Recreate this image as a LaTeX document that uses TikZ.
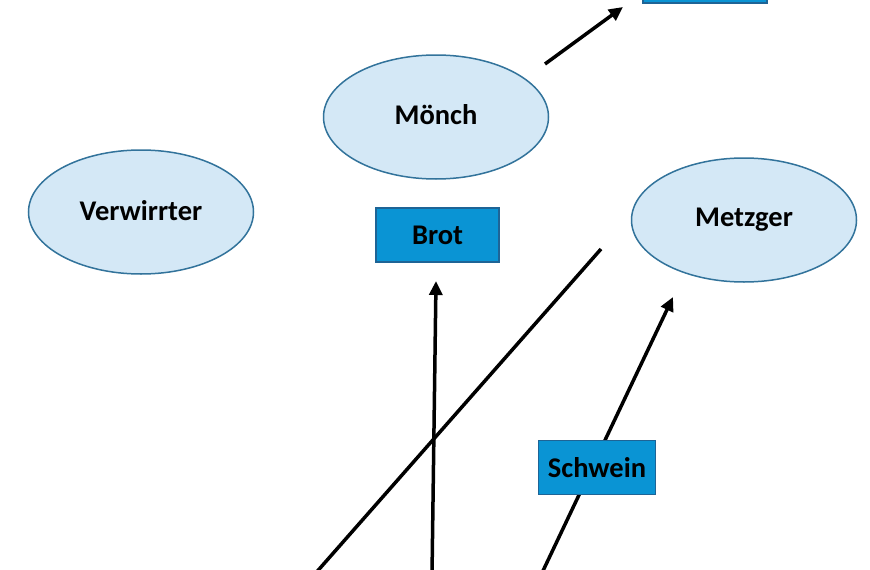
\documentclass[tikz,border=0pt]{standalone}
\usepackage{fontspec}
\setmainfont{Carlito}
\usetikzlibrary{shapes.geometric,arrows.meta}
\definecolor{boxfill}{RGB}{10,148,212}
\definecolor{boxline}{RGB}{30,100,150}
\definecolor{ellfill}{RGB}{212,232,246}
\definecolor{ellline}{RGB}{50,115,155}
\tikzset{
  person/.style={ellipse,draw=ellline,fill=ellfill,line width=1.5pt,minimum width=225pt,minimum height=124pt,inner sep=0pt,font=\fontsize{28.5}{33}\selectfont\bfseries},
  thing/.style={rectangle,draw=boxline,fill=boxfill,line width=1.2pt,minimum height=54pt,inner sep=0pt,font=\fontsize{28.5}{33}\selectfont\bfseries},
  conn/.style={line width=3.5pt,black},
  arr/.style={conn,-{Triangle[length=14pt,width=13pt]}}
}
\begin{document}
\begin{tikzpicture}[x=1pt,y=-1pt]
\useasboundingbox (0,0) rectangle (870,570);
\fill[white] (0,0) rectangle (870,570);
% connector end points
\coordinate (a1) at (545,64);
\coordinate (a2) at (623,7);
\coordinate (b1) at (432,575);
\coordinate (b2) at (436,281);
\coordinate (c1) at (541,575);
\coordinate (c2) at (673,297);
\coordinate (d1) at (314,575);
\coordinate (d2) at (601,249);
\draw[arr] (a1) -- (a2);
\draw[arr] (b1) -- (b2);
\draw[arr] (c1) -- (c2);
\draw[conn] (d1) -- (d2);
% nodes
\node[person] (verwirrter) at (141,212) {\raisebox{4pt}{Verwirrter}};
\node[person] (moench) at (436,117) {\raisebox{5pt}{Mönch}};
\node[person] (metzger) at (744,220) {\raisebox{5pt}{Metzger}};
\node[thing,minimum width=123pt] (brot) at (437.5,235) {Brot};
\node[thing,minimum width=117pt] (schwein) at (597,467.5) {Schwein};
\node[thing,minimum width=124pt] (top) at (705,-24) {};
\end{tikzpicture}
\end{document}
